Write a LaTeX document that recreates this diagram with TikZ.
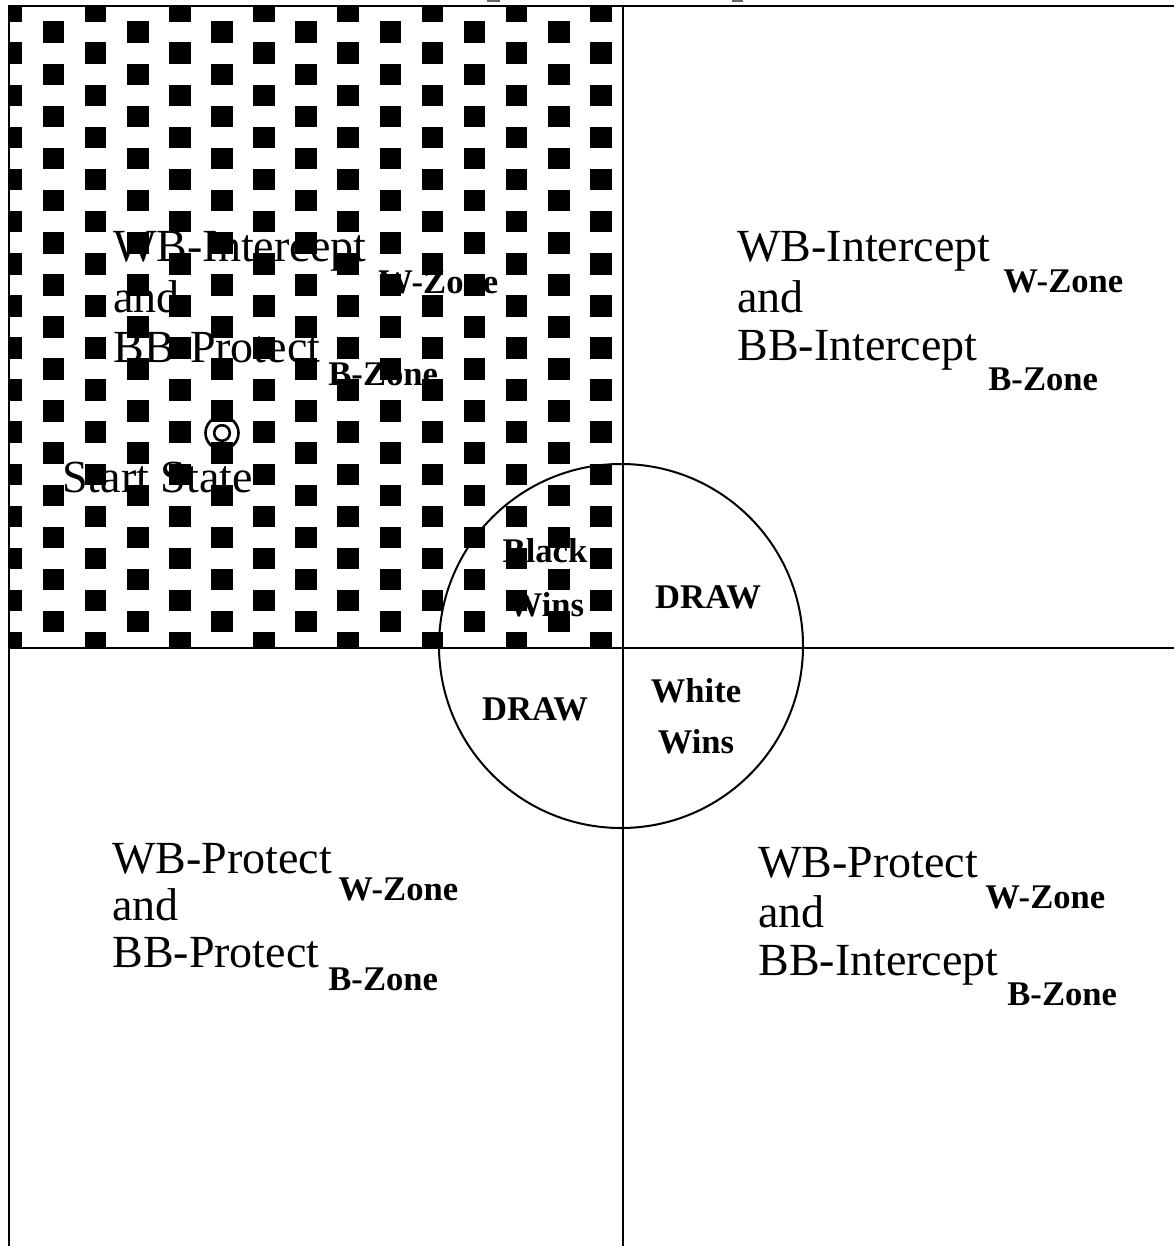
\documentclass[tikz,border=0pt]{standalone}
\usepackage{fontspec}
\setmainfont{Liberation Serif}
\newcommand\bigtxt{\fontsize{23}{25}\selectfont}
\newcommand\boldtxt{\fontsize{17.3}{19}\selectfont\bfseries}
\begin{document}
\begin{tikzpicture}[x=0.5pt,y=-0.5pt,
  main/.style={anchor=base west,inner sep=0pt,font=\bigtxt},
  sub/.style={anchor=base west,inner sep=0pt,font=\boldtxt},
  lab/.style={anchor=base,inner sep=0pt,font=\boldtxt},
  outerline/.style={line width=1.3pt},
  innerline/.style={line width=1pt}]
\useasboundingbox[fill=white] (0,0) rectangle (1174,1246);
% checker pattern of the top-left quadrant
\begin{scope}
  \clip (9,6) rectangle (622,648);
  \foreach \r in {0,2,...,30}
    \foreach \c in {0,4,...,28}
      \fill ({0.6+\c*21.05},{0.4+\r*21.05}) rectangle ++(21.6,21.6);
  \foreach \r in {1,3,...,29}
    \foreach \c in {2,6,...,30}
      \fill ({0.6+\c*21.05},{0.4+\r*21.05}) rectangle ++(21.6,21.6);
\end{scope}
% remnants of cut-off title
\fill[black!60] (487,0) rectangle (500,2);
\fill[black!60] (732,0) rectangle (743,2);
% frame lines
\coordinate (tl) at (8,6);
\coordinate (tr) at (1174,6);
\coordinate (lt) at (9,6);
\coordinate (bl) at (9,1246);
\coordinate (vt) at (622.5,6);
\coordinate (vb) at (622.5,1246);
\coordinate (hl) at (9,648);
\coordinate (hr) at (1174,648);
\draw[outerline] (tl) -- (tr);
\draw[outerline] (lt) -- (bl);
\draw[innerline] (vt) -- (vb);
\draw[innerline] (hl) -- (hr);
% central circle
\node[draw,circle,line width=1pt,minimum size=182pt,inner sep=0pt] (ring) at (621,646) {};
% start state symbol
\draw[line width=1.3pt] (222,433) circle[radius=16.5];
\draw[line width=1.3pt] (222,433) circle[radius=7.8];
% top-left quadrant
\node[main] (tl1) at (113,262) {WB-Intercept};
\node[sub]  (tl2) at (378,293) {W-Zone};
\node[main] (tl3) at (113,312) {and};
\node[main] (tl4) at (113,362) {BB-Protect};
\node[sub]  (tl5) at (328,385) {B-Zone};
\node[main] (start) at (62,492) {Start State};
% top-right quadrant
\node[main] (tr1) at (737,262) {WB-Intercept};
\node[sub]  (tr2) at (1003,292) {W-Zone};
\node[main] (tr3) at (737,312) {and};
\node[main] (tr4) at (737,360) {BB-Intercept};
\node[sub]  (tr5) at (988,390) {B-Zone};
% bottom-left quadrant
\node[main] (bl1) at (112,873) {WB-Protect};
\node[sub]  (bl2) at (338,900) {W-Zone};
\node[main] (bl3) at (112,920) {and};
\node[main] (bl4) at (112,967) {BB-Protect};
\node[sub]  (bl5) at (328,990) {B-Zone};
% bottom-right quadrant
\node[main] (br1) at (758,877) {WB-Protect};
\node[sub]  (br2) at (985,908) {W-Zone};
\node[main] (br3) at (758,927) {and};
\node[main] (br4) at (758,975) {BB-Intercept};
\node[sub]  (br5) at (1007,1005) {B-Zone};
% circle labels
\node[lab] (bw1) at (545,562) {Black};
\node[lab] (bw2) at (546,616) {Wins};
\node[lab] (dr1) at (708,608) {DRAW};
\node[lab] (dr2) at (535,720) {DRAW};
\node[lab] (ww1) at (696,702) {White};
\node[lab] (ww2) at (696,753) {Wins};
\end{tikzpicture}
\end{document}
